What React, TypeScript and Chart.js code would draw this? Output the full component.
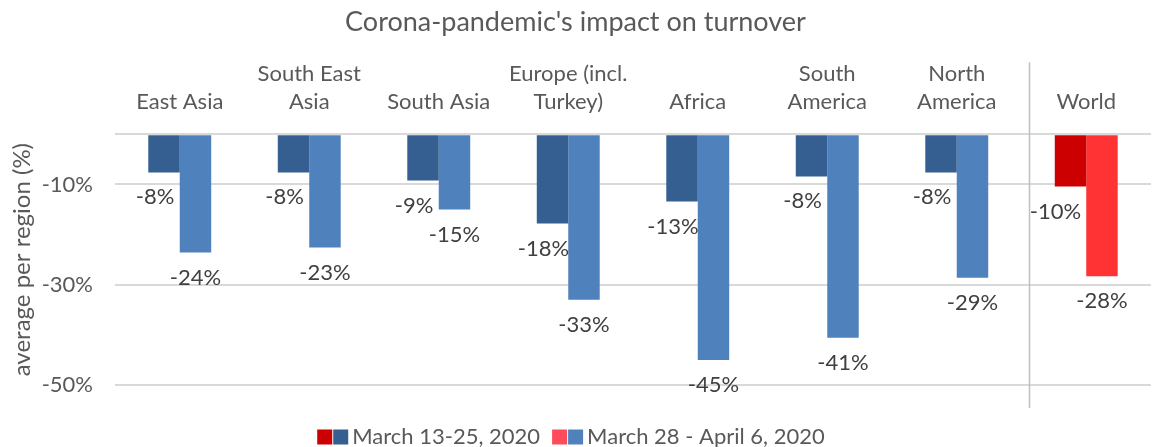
import React, { useEffect, useRef } from "react";
import { Chart, registerables } from "chart.js";

Chart.register(...registerables);

const categories: string[][] = [
  ["East Asia"],
  ["South East", "Asia"],
  ["South Asia"],
  ["Europe (incl.", "Turkey)"],
  ["Africa"],
  ["South", "America"],
  ["North", "America"],
  ["World"],
];
const seriesNames = ["March 13-25, 2020", "March 28 - April 6, 2020"];
const march13to25 = [-7.6, -7.6, -9.2, -17.8, -13.4, -8.4, -7.6, -10.4];
const march28toApr6 = [-23.6, -22.6, -15, -33, -45, -40.6, -28.6, -28.3];
const yTicks = [-50, -30, -10, 0];

const darkBlue = "#355F91";
const lightBlue = "#4F81BD";
const darkRed = "#CC0000";
const lightRed = "#FF3333";
const legendLightRed = "#FF4C5B";
const textColor = "#595959";
const FONT = "Lato, 'Open Sans', sans-serif";

function colorsFor(base: string, world: string) {
  return categories.map((_, i) => (i === categories.length - 1 ? world : base));
}

const barLabels = {
  id: "barLabels",
  afterDatasetsDraw(chart: any) {
    const ctx = chart.ctx;
    ctx.save();
    ctx.font = `22px ${FONT}`;
    ctx.fillStyle = "#404040";
    ctx.textAlign = "center";
    ctx.textBaseline = "middle";
    chart.data.datasets.forEach((ds: any, di: number) => {
      const meta = chart.getDatasetMeta(di);
      meta.data.forEach((bar: any, i: number) => {
        const v = ds.data[i];
        let dx = 0;
        if (di === 0) dx = i === categories.length - 1 ? -15 : -9;
        ctx.fillText(`${Math.round(v)}%`, bar.x + dx, bar.y + 25);
      });
    });
    ctx.restore();
  },
};

const separator = {
  id: "separator",
  afterDraw(chart: any) {
    const area = chart.chartArea;
    const last = categories.length - 1;
    const a = chart.getDatasetMeta(1).data[last - 1];
    const b = chart.getDatasetMeta(0).data[last];
    const px = (a.x + a.width / 2 + (b.x - b.width / 2)) / 2 + 8;
    const ctx = chart.ctx;
    ctx.save();
    ctx.strokeStyle = "#BFBFBF";
    ctx.lineWidth = 1.5;
    ctx.beginPath();
    ctx.moveTo(px, area.top - 72);
    ctx.lineTo(px, area.bottom + 23);
    ctx.stroke();
    ctx.restore();
  },
};

const customLegend = {
  id: "customLegend",
  afterDraw(chart: any) {
    const ctx = chart.ctx;
    ctx.save();
    ctx.font = `22px ${FONT}`;
    ctx.textBaseline = "middle";
    const box = 15;
    const iconW = box * 2 + 1;
    const gapIconText = 4;
    const gapItems = 12;
    const pairs = [
      [darkRed, darkBlue],
      [legendLightRed, lightBlue],
    ];
    const widths = seriesNames.map((n) => iconW + gapIconText + ctx.measureText(n).width);
    const total = widths.reduce((a, b) => a + b, 0) + gapItems;
    let x = chart.width / 2 - 5 - total / 2;
    const cy = 437;
    seriesNames.forEach((n, i) => {
      ctx.fillStyle = pairs[i][0];
      ctx.fillRect(x, cy - box / 2, box, box);
      ctx.fillStyle = pairs[i][1];
      ctx.fillRect(x + box + 1, cy - box / 2, box, box);
      ctx.fillStyle = textColor;
      ctx.textAlign = "left";
      ctx.fillText(n, x + iconW + gapIconText, cy);
      x += widths[i] + gapItems;
    });
    ctx.restore();
  },
};

export default function App() {
  const ref = useRef<HTMLCanvasElement>(null);
  useEffect(() => {
    document.body.style.margin = "0";
    const chart = new Chart(ref.current!, {
      type: "bar",
      data: {
        labels: categories,
        datasets: [
          {
            label: seriesNames[0],
            data: march13to25,
            backgroundColor: colorsFor(darkBlue, darkRed),
            categoryPercentage: 0.486,
            barPercentage: 1,
          },
          {
            label: seriesNames[1],
            data: march28toApr6,
            backgroundColor: colorsFor(lightBlue, lightRed),
            categoryPercentage: 0.486,
            barPercentage: 1,
          },
        ],
      },
      options: {
        animation: false,
        responsive: false,
        maintainAspectRatio: false,
        layout: { padding: { left: 0, right: 1, top: 0, bottom: 62 } },
        plugins: {
          title: {
            display: true,
            text: "Corona-pandemic's impact on turnover",
            color: textColor,
            font: { family: FONT, size: 27, weight: "normal" },
            padding: { top: 6, bottom: 4 },
          },
          legend: { display: false },
          tooltip: { enabled: false },
        },
        scales: {
          x: {
            position: "top",
            grid: { display: false, drawTicks: false },
            border: { display: false },
            ticks: {
              color: textColor,
              font: { family: FONT, size: 22, lineHeight: 1.27 },
              padding: 18,
              maxRotation: 0,
              autoSkip: false,
            },
          },
          y: {
            min: -50,
            max: 0,
            afterBuildTicks: (s: any) => {
              s.ticks = yTicks.map((v) => ({ value: v }));
            },
            afterFit: (s: any) => {
              s.width = 115;
            },
            grid: { color: "#D9D9D9", lineWidth: 2, drawTicks: false },
            border: { display: false },
            ticks: {
              color: textColor,
              font: { family: FONT, size: 22 },
              padding: 22,
              callback: (v: any) => (v === 0 ? "" : `${v}%`),
            },
            title: {
              display: true,
              text: "average per region (%)",
              color: textColor,
              font: { family: FONT, size: 24 },
              padding: { top: 8, bottom: 8 },
            },
          },
        },
      },
      plugins: [barLabels, separator, customLegend],
    });
    return () => chart.destroy();
  }, []);
  return (
    <div style={{ position: "absolute", left: 0, top: 0, width: 1152, height: 447 }}>
      <canvas ref={ref} width={1152} height={447} style={{ width: 1152, height: 447 }} />
    </div>
  );
}
